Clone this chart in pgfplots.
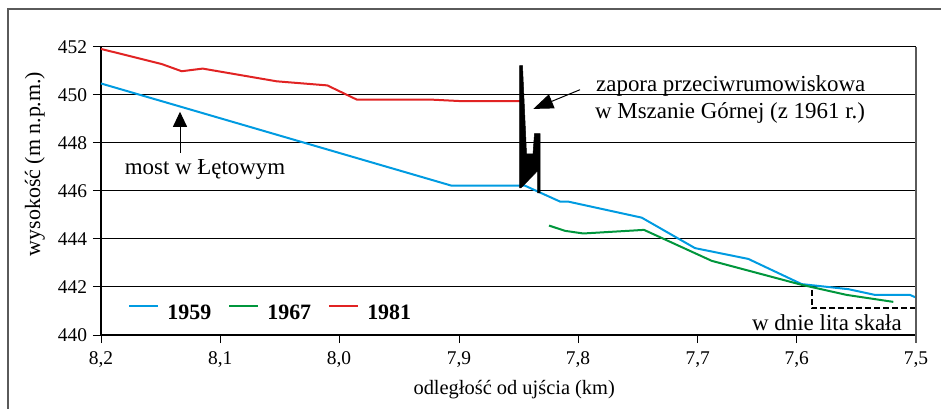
\documentclass[border=0pt]{standalone}
\usepackage{fontspec}
\setmainfont{Liberation Serif}
\usepackage{pgfplots}
\pgfplotsset{compat=1.18}
\usetikzlibrary{arrows.meta}
\definecolor{c59}{RGB}{0,155,225}
\definecolor{c67}{RGB}{0,150,60}
\definecolor{c81}{RGB}{225,35,35}
\definecolor{framec}{RGB}{90,90,90}
\newcommand{\fsz}[1]{\fontsize{#1}{#1}\selectfont}
\tikzset{
  xl/.style={anchor=north, inner sep=0pt, yshift=-16.7bp, font=\rmfamily\fsz{19.5}},
  yl/.style={anchor=east, inner sep=0pt, xshift=-13.7bp, font=\rmfamily\fsz{19.5}},
}
\begin{document}
\begin{tikzpicture}
\useasboundingbox (0,0) rectangle (941bp,409bp);
\draw[framec, line width=1.5bp] (8bp,0) -- (8bp,400bp) -- (941bp,400bp);
\begin{axis}[
  at={(101bp,74bp)}, anchor=south west,
  width=815bp, height=288bp, scale only axis,
  xmin=0, xmax=815, ymin=440, ymax=452,
  axis lines=left, axis line style={-, black, line width=1.1bp},
  xtick={0,119.3,238,358,477,596.7,695.7,815},
  xticklabels={},
  ytick={440,442,444,446,448,450,452},
  yticklabels={},
  ymajorgrids, grid style={black, line width=1bp},
  tick align=outside, major tick length=8bp, tick style={black, line width=1bp},
  clip=false,
  xlabel={odległość od ujścia (km)},
  ylabel={wysokość (m n.p.m.)},
  xlabel style={at={(rel axis cs:0.507,-0.191)}, anchor=center, font=\fsz{20.5}},
  ylabel style={at={(rel axis cs:-0.081,0.594)}, anchor=center, font=\fsz{22}},
  legend style={at={(rel axis cs:0.033,0.0754)}, anchor=west, draw=none, fill=none,
    inner sep=0pt, legend columns=3, font=\bfseries\fsz{22},
    nodes={inner sep=3.8bp},
    /tikz/every even column/.append style={column sep=13bp}},
  legend image code/.code={\draw[#1] (0bp,7.4bp) -- (29bp,7.4bp); \path (33.5bp,7.4bp);},
]
\addplot[c59, line width=2bp] coordinates {
 (0,450.48) (350.7,446.22) (424,446.22) (459,445.56) (467,445.56) (540.7,444.89)
 (594,443.62) (647.3,443.17) (700.7,442.12) (747.3,441.91) (774,441.67) (809,441.67) (815,441.56)};
\addplot[c67, line width=2bp] coordinates {
 (448,444.56) (464,444.34) (482.3,444.23) (543,444.38) (610.7,443.09) (700.7,442.09)
 (745.7,441.67) (792.3,441.38)};
\addplot[c81, line width=2bp] coordinates {
 (0,451.92) (60.7,451.29) (80.7,450.99) (101.7,451.10) (175.7,450.57) (226.3,450.40)
 (255.7,449.81) (329,449.81) (362.3,449.74) (422.3,449.74)};
\legend{1959,1967,1981}
\addplot[fill=black, draw=black, line width=0.5bp, forget plot] coordinates {
 (418.5,451.22) (421.5,451.22) (425.5,447.55) (432,447.55) (433.5,448.39) (439,448.39)
 (439,445.92) (436.5,445.92) (436.5,446.84) (420,446.13) (418.5,446.13)} -- cycle;
\node[xl] at (axis cs:0,440) {8,2};
\node[xl] at (axis cs:119.3,440) {8,1};
\node[xl] at (axis cs:238,440) {8,0};
\node[xl] at (axis cs:358,440) {7,9};
\node[xl] at (axis cs:477,440) {7,8};
\node[xl] at (axis cs:596.7,440) {7,7};
\node[xl] at (axis cs:695.7,440) {7,6};
\node[xl] at (axis cs:815,440) {7,5};
\node[yl] at (axis cs:0,440) {440};
\node[yl] at (axis cs:0,442) {442};
\node[yl] at (axis cs:0,444) {444};
\node[yl] at (axis cs:0,446) {446};
\node[yl] at (axis cs:0,448) {448};
\node[yl] at (axis cs:0,450) {450};
\node[yl] at (axis cs:0,452) {452};
\draw[line width=1bp, -{Triangle[length=15bp,width=14bp]}] (axis cs:79,447.59) -- (axis cs:79,449.3);
\node[font=\fsz{23}] at (axis cs:104,446.88) {most w Łętowym};
\draw[line width=1bp, -{Triangle[length=20bp,width=15bp]}] (axis cs:479,450.22) -- (axis cs:432.3,449.42);
\node[anchor=west, font=\fsz{23}, inner sep=0pt] at (axis cs:495,450.39) {zapora przeciwrumowiskowa};
\node[anchor=west, font=\fsz{23}, inner sep=0pt] at (axis cs:494,449.26) {w Mszanie Górnej (z 1961 r.)};
\node[anchor=base west, font=\fsz{23}, inner sep=0pt] at (axis cs:651,440.18) {w dnie lita skała};
\draw[black, line width=2bp, dash pattern=on 6bp off 3bp] (axis cs:710.7,441.88) -- (axis cs:710.7,441.11) -- (axis cs:815,441.11);
\draw[framec, line width=1.5bp] (rel axis cs:1,1) -- ([yshift=-8bp]rel axis cs:1,0);
\end{axis}
\end{tikzpicture}
\end{document}
